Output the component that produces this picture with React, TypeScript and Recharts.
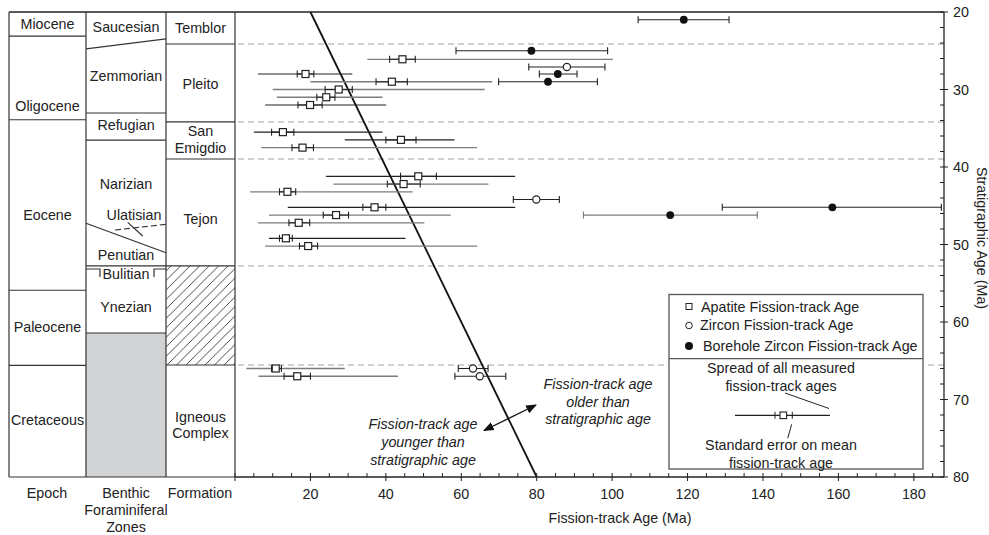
import React from "react";
import {
  ScatterChart,
  Scatter,
  XAxis,
  YAxis,
  ErrorBar,
  ReferenceLine,
} from "recharts";

const W = 989;
const H = 535;
const PLOT = { left: 235, right: 944, top: 12, bottom: 477 };
const AGE_MAX = 188;
const STRAT_MIN = 20;
const STRAT_MAX = 80;

const FONT = '"Liberation Sans", Arial, sans-serif';
const FS = 14.3;
const INK = "#222";
const GRAY = "#7d7d7d";

// Apatite fission-track ages (squares)
const apatiteAge = [44.4, 18.7, 41.6, 27.5, 24.2, 19.9, 12.7, 44.0, 17.9, 48.6, 44.7, 13.9, 37.0, 26.8, 16.9, 13.5, 19.4, 10.8, 16.5];
const apatiteStrat = [26.1, 28.0, 29.0, 30.0, 31.0, 32.0, 35.5, 36.5, 37.5, 41.2, 42.2, 43.2, 45.2, 46.2, 47.2, 49.2, 50.2, 66.0, 67.0];
const apatiteSeLow = [41.0, 16.5, 37.4, 23.9, 21.7, 16.7, 9.7, 40.0, 15.1, 43.9, 40.4, 11.8, 33.9, 23.4, 14.3, 11.8, 17.1, 9.7, 13.0];
const apatiteSeHigh = [47.8, 20.9, 45.7, 31.1, 26.5, 23.1, 15.6, 48.0, 20.8, 53.4, 49.1, 16.1, 40.0, 30.1, 19.8, 15.2, 21.9, 12.3, 20.0];
const apatiteMin = [35.1, 6.1, 20.0, 10.0, 11.1, 8.0, 5.0, 29.1, 7.0, 24.1, 26.1, 4.0, 14.0, 9.0, 6.1, 9.0, 8.0, 3.0, 6.2];
const apatiteMax = [100.2, 31.1, 68.2, 66.2, 39.1, 40.1, 39.1, 58.2, 64.2, 74.3, 67.2, 47.1, 74.3, 57.2, 50.2, 45.2, 64.2, 29.1, 43.2];
const apatiteTone = ["g", "k", "g", "g", "g", "k", "k", "k", "g", "k", "g", "g", "k", "g", "g", "k", "g", "g", "g"];

// Zircon fission-track ages (open circles)
const zirconAge = [88.0, 79.9, 63.1, 64.9];
const zirconStrat = [27.1, 44.2, 66.0, 67.0];
const zirconLow = [77.9, 73.8, 59.2, 58.3];
const zirconHigh = [98.1, 86.0, 67.1, 71.8];

// Borehole zircon fission-track ages (filled circles)
const boreholeAge = [119.0, 78.6, 85.6, 83.0, 158.4, 115.4];
const boreholeStrat = [21.0, 25.0, 28.0, 29.0, 45.2, 46.2];
const boreholeLow = [106.9, 58.6, 80.7, 69.9, 129.2, 92.4];
const boreholeHigh = [131.0, 98.8, 90.7, 96.1, 187.3, 138.5];
const boreholeTone = ["k", "k", "k", "k", "k", "g"];

const xTicks = Array.from({ length: 38 }, (_, i) => i * 5);
const yTicks = Array.from({ length: 31 }, (_, i) => 20 + i * 2);

// stratigraphic column boundaries (Ma)
const epochBounds = [23.1, 33.9, 55.9, 65.6];
const epochLabels = [
  { t: "Miocene", y: 21.55 },
  { t: "Oligocene", y: 32.1 },
  { t: "Eocene", y: 46.2 },
  { t: "Paleocene", y: 60.6 },
  { t: "Cretaceous", y: 72.6 },
];
const zoneBounds = [33.03, 36.52, 52.77];
const zoneLabels = [
  { t: "Saucesian", y: 21.94 },
  { t: "Zemmorian", y: 28.26 },
  { t: "Refugian", y: 34.58 },
  { t: "Narizian", y: 42.19 },
  { t: "Penutian", y: 51.35 },
  { t: "Bulitian", y: 53.8 },
  { t: "Ynezian", y: 58.0 },
];
const grayZoneTop = 61.42;
const formationBounds = [24.13, 34.19, 38.97, 52.77, 65.55];
const formationLabels = [
  { t: "Temblor", y: 22.06 },
  { t: "Pleito", y: 29.29 },
  { t: "San", y: 35.35 },
  { t: "Emigdio", y: 37.55 },
  { t: "Tejon", y: 46.71 },
  { t: "Igneous", y: 72.2 },
  { t: "Complex", y: 74.35 },
];
const hatchTop = 52.77;
const hatchBottom = 65.55;

const apatiteRows = apatiteAge.map((age, i) => ({
  age,
  strat: apatiteStrat[i],
  se: [age - apatiteSeLow[i], apatiteSeHigh[i] - age],
  spread: [age - apatiteMin[i], apatiteMax[i] - age],
  tone: apatiteTone[i],
}));
const zirconRows = zirconAge.map((age, i) => ({
  age,
  strat: zirconStrat[i],
  err: [age - zirconLow[i], zirconHigh[i] - age],
}));
const boreholeRows = boreholeAge.map((age, i) => ({
  age,
  strat: boreholeStrat[i],
  err: [age - boreholeLow[i], boreholeHigh[i] - age],
  tone: boreholeTone[i],
}));

const yPx = (v: number) =>
  PLOT.top + ((v - STRAT_MIN) / (STRAT_MAX - STRAT_MIN)) * (PLOT.bottom - PLOT.top);

const Square = (p: any) => (
  <rect x={p.cx - 3.5} y={p.cy - 3.5} width={7} height={7} fill="#fff" stroke={INK} strokeWidth={1.2} />
);
const OpenCircle = (p: any) => (
  <circle cx={p.cx} cy={p.cy} r={3.6} fill="#fff" stroke={INK} strokeWidth={1.2} />
);
const Dot = (p: any) => <circle cx={p.cx} cy={p.cy} r={3.9} fill="#111" />;

const XTick = ({ x, y, payload }: any) => {
  const v = payload.value;
  const major = v % 20 === 0;
  return (
    <g>
      <line x1={x} x2={x} y1={y - 4} y2={major ? y + 4 : y} stroke={INK} strokeWidth={1} />
      {major && v > 0 && (
        <text x={x} y={y + 22} textAnchor="middle" fontSize={FS} fontFamily={FONT} fill={INK}>
          {v}
        </text>
      )}
    </g>
  );
};

const YTick = ({ x, y, payload }: any) => {
  const v = payload.value;
  const major = v % 10 === 0;
  return (
    <g>
      <line x1={x - 4} x2={major ? x + 4 : x} y1={y} y2={y} stroke={INK} strokeWidth={1} />
      {major && (
        <text x={x + 9} y={y + 5} textAnchor="start" fontSize={FS} fontFamily={FONT} fill={INK}>
          {v}
        </text>
      )}
    </g>
  );
};

const T = ({ x, y, children, anchor = "middle", italic = false }: any) => (
  <text
    x={x}
    y={y + 5}
    textAnchor={anchor}
    fontSize={FS}
    fontFamily={FONT}
    fontStyle={italic ? "italic" : "normal"}
    fill={INK}
  >
    {children}
  </text>
);

const Overlay = () => {
  const colL = 9;
  const colA = 86;
  const colB = 166;
  const colR = PLOT.left;
  const top = PLOT.top;
  const bot = PLOT.bottom;
  const line = { stroke: "#333", strokeWidth: 1.2 };
  return (
    <svg
      width={W}
      height={H}
      style={{ position: "absolute", left: 0, top: 0, pointerEvents: "none" }}
    >
      <defs>
        <pattern id="hatch" patternUnits="userSpaceOnUse" width={9.5} height={9.5}>
          <path d="M-2,2 L2,-2 M0,9.5 L9.5,0 M7.5,11.5 L11.5,7.5" stroke="#333" strokeWidth={0.9} />
        </pattern>
        <marker id="arr" viewBox="0 0 10 10" refX={9} refY={5} markerWidth={9} markerHeight={9} orient="auto-start-reverse">
          <path d="M0,1 L10,5 L0,9 z" fill="#111" />
        </marker>
      </defs>

      {/* stratigraphic columns */}
      <rect x={colA} y={yPx(grayZoneTop)} width={colB - colA} height={bot - yPx(grayZoneTop)} fill="#d2d3d5" />
      <rect x={colB} y={yPx(hatchTop)} width={colR - colB} height={yPx(hatchBottom) - yPx(hatchTop)} fill="url(#hatch)" />
      <line x1={colL} x2={PLOT.right} y1={top} y2={top} stroke={INK} strokeWidth={1.3} />
      <line x1={colL} x2={colR} y1={bot} y2={bot} {...line} />
      {[colL, colA, colB, colR].map((x) => (
        <line key={x} x1={x} x2={x} y1={top} y2={bot} {...line} />
      ))}
      {epochBounds.map((v) => (
        <line key={v} x1={colL} x2={colA} y1={yPx(v)} y2={yPx(v)} {...line} />
      ))}
      {zoneBounds.map((v) => (
        <line key={v} x1={colA} x2={colB} y1={yPx(v)} y2={yPx(v)} {...line} />
      ))}
      <line x1={colA} x2={colB} y1={yPx(grayZoneTop)} y2={yPx(grayZoneTop)} {...line} />
      {formationBounds.map((v) => (
        <line key={v} x1={colB} x2={colR} y1={yPx(v)} y2={yPx(v)} {...line} />
      ))}
      {/* sloped and dashed zone contacts */}
      <line x1={colA} y1={yPx(24.77)} x2={colB} y2={yPx(23.48)} {...line} />
      <line x1={colA} y1={yPx(47.26)} x2={colB} y2={yPx(51.06)} {...line} />
      <line x1={115} y1={yPx(48.13)} x2={colB} y2={yPx(47.39)} stroke="#333" strokeWidth={1.2} strokeDasharray="6 3" />
      <line x1={127.7} y1={yPx(47.14)} x2={142.7} y2={yPx(48.9)} {...line} />
      {/* Bulitian bracket */}
      <path
        d={`M${colA},${yPx(53.16)} H100 V${yPx(54.2)} M154,${yPx(54.2)} V${yPx(53.16)} H${colB}`}
        fill="none"
        {...line}
      />

      {epochLabels.map((l) => (
        <T key={l.t} x={(colL + colA) / 2} y={yPx(l.y)}>{l.t}</T>
      ))}
      {zoneLabels.map((l) => (
        <T key={l.t} x={(colA + colB) / 2} y={yPx(l.y)}>{l.t}</T>
      ))}
      <T x={134} y={yPx(46.19)}>Ulatisian</T>
      {formationLabels.map((l) => (
        <T key={l.t} x={(colB + colR) / 2} y={yPx(l.y)}>{l.t}</T>
      ))}

      <T x={47} y={493}>Epoch</T>
      <T x={126} y={493}>Benthic</T>
      <T x={126} y={510}>Foraminiferal</T>
      <T x={126} y={527}>Zones</T>
      <T x={200} y={493}>Formation</T>

      {/* axis titles */}
      <T x={620} y={518}>Fission-track Age (Ma)</T>
      <text
        x={982}
        y={238}
        transform="rotate(90 982 238)"
        textAnchor="middle"
        dominantBaseline="central"
        fontSize={FS}
        fontFamily={FONT}
        fill={INK}
      >
        Stratigraphic Age (Ma)
      </text>

      {/* annotations */}
      <T x={598} y={384} italic>Fission-track age</T>
      <T x={598} y={402} italic>older than</T>
      <T x={598} y={419} italic>stratigraphic age</T>
      <T x={423} y={424} italic>Fission-track age</T>
      <T x={423} y={442} italic>younger than</T>
      <T x={423} y={460} italic>stratigraphic age</T>
      <line
        x1={484}
        y1={430.5}
        x2={536}
        y2={405}
        stroke="#111"
        strokeWidth={1.2}
        markerStart="url(#arr)"
        markerEnd="url(#arr)"
      />

      {/* legend */}
      <rect x={669} y={294.5} width={254} height={174.5} fill="#fff" stroke="#555" strokeWidth={1.3} />
      <line x1={669} x2={923} y1={358.7} y2={358.7} stroke="#555" strokeWidth={1.3} />
      <rect x={686} y={303.5} width={6} height={6} fill="#fff" stroke={INK} strokeWidth={1} />
      <T x={701} y={306.5} anchor="start">Apatite Fission-track Age</T>
      <circle cx={689} cy={325.5} r={3.3} fill="#fff" stroke={INK} strokeWidth={1} />
      <T x={700} y={325} anchor="start">Zircon Fission-track Age</T>
      <circle cx={689} cy={346} r={4} fill="#111" />
      <T x={703} y={346} anchor="start">Borehole Zircon Fission-track Age</T>
      <T x={781} y={368}>Spread of all measured</T>
      <T x={781} y={386}>fission-track ages</T>
      <line x1={785} y1={393} x2={829} y2={408.5} stroke={INK} strokeWidth={1} />
      <line x1={735} x2={830} y1={415.3} y2={415.3} stroke={INK} strokeWidth={1.2} />
      <line x1={775} x2={775} y1={411.8} y2={418.8} stroke={INK} strokeWidth={1} />
      <line x1={792.3} x2={792.3} y1={411.8} y2={418.8} stroke={INK} strokeWidth={1} />
      <rect x={780} y={412} width={6.6} height={6.6} fill="#fff" stroke={INK} strokeWidth={1.1} />
      <line x1={791.7} y1={424.3} x2={787.7} y2={438.3} stroke={INK} strokeWidth={1} />
      <T x={781} y={445}>Standard error on mean</T>
      <T x={781} y={463}>fission-track age</T>
    </svg>
  );
};

export default function App() {
  return (
    <div style={{ position: "absolute", left: 0, top: 0, width: W, height: H, background: "#fff" }}>
      <ScatterChart
        width={W}
        height={H}
        margin={{ top: PLOT.top, right: 10, bottom: 28, left: PLOT.left }}
      >
        <XAxis
          type="number"
          dataKey="age"
          domain={[0, AGE_MAX]}
          allowDataOverflow
          ticks={xTicks}
          interval={0}
          tickLine={false}
          tickSize={0}
          tickMargin={0}
          tick={<XTick />}
          axisLine={{ stroke: INK, strokeWidth: 1.3 }}
          height={30}
        />
        <YAxis
          type="number"
          dataKey="strat"
          orientation="right"
          reversed
          domain={[STRAT_MIN, STRAT_MAX]}
          allowDataOverflow
          ticks={yTicks}
          interval={0}
          tickLine={false}
          tickSize={0}
          tickMargin={0}
          tick={<YTick />}
          axisLine={{ stroke: INK, strokeWidth: 1.3 }}
          width={35}
        />
        {formationBounds.map((v) => (
          <ReferenceLine key={v} y={v} stroke="#a0a0a0" strokeDasharray="6 4" strokeWidth={1} />
        ))}
        <ReferenceLine
          segment={[
            { x: 20, y: 20 },
            { x: 80, y: 80 },
          ]}
          stroke="#111"
          strokeWidth={1.8}
          ifOverflow="visible"
        />
        <Scatter data={apatiteRows.filter((r) => r.tone === "g")} shape={Square} isAnimationActive={false}>
          <ErrorBar dataKey="spread" direction="x" width={0} stroke={GRAY} strokeWidth={1.3} isAnimationActive={false} />
          <ErrorBar dataKey="se" direction="x" width={3.5} stroke={INK} strokeWidth={1.1} isAnimationActive={false} />
        </Scatter>
        <Scatter data={apatiteRows.filter((r) => r.tone === "k")} shape={Square} isAnimationActive={false}>
          <ErrorBar dataKey="spread" direction="x" width={0} stroke={INK} strokeWidth={1.2} isAnimationActive={false} />
          <ErrorBar dataKey="se" direction="x" width={3.5} stroke={INK} strokeWidth={1.1} isAnimationActive={false} />
        </Scatter>
        <Scatter data={zirconRows} shape={OpenCircle} isAnimationActive={false}>
          <ErrorBar dataKey="err" direction="x" width={3.5} stroke={INK} strokeWidth={1.1} isAnimationActive={false} />
        </Scatter>
        <Scatter data={boreholeRows.filter((r) => r.tone === "k")} shape={Dot} isAnimationActive={false}>
          <ErrorBar dataKey="err" direction="x" width={3.5} stroke={INK} strokeWidth={1.1} isAnimationActive={false} />
        </Scatter>
        <Scatter data={boreholeRows.filter((r) => r.tone === "g")} shape={Dot} isAnimationActive={false}>
          <ErrorBar dataKey="err" direction="x" width={3.5} stroke={GRAY} strokeWidth={1.2} isAnimationActive={false} />
        </Scatter>
      </ScatterChart>
      <Overlay />
    </div>
  );
}
